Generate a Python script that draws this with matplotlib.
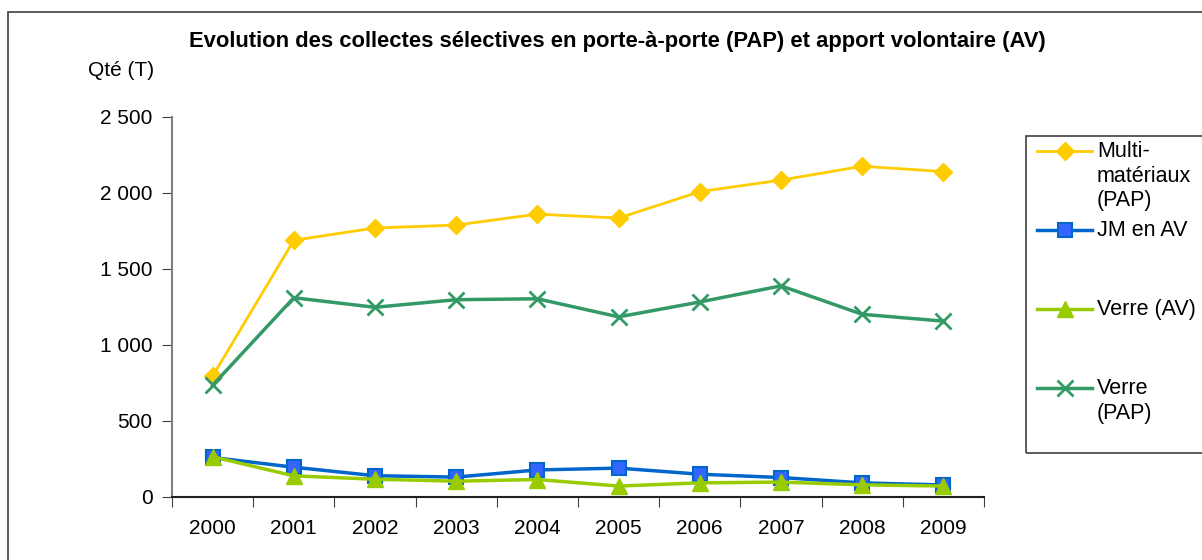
import matplotlib
matplotlib.use('Agg')
import matplotlib.pyplot as plt
from matplotlib.lines import Line2D
from matplotlib.patches import Rectangle

# ---------- data ----------
years = ['2000', '2001', '2002', '2003', '2004', '2005', '2006', '2007', '2008', '2009']
multi_pap = [795, 1689, 1770, 1789, 1861, 1835, 2009, 2085, 2176, 2141]
jm_av = [260, 196, 140, 131, 178, 190, 150, 128, 93, 79]
verre_av = [265, 139, 117, 104, 115, 72, 93, 98, 80, 72]
verre_pap = [735, 1311, 1248, 1298, 1304, 1185, 1283, 1389, 1202, 1157]

labels = ['Multi-\nmatériaux\n(PAP)', 'JM en AV', 'Verre (AV)', 'Verre\n(PAP)']
yticks = [0, 500, 1000, 1500, 2000, 2500]
ytick_labels = ['0', '500', '1 000', '1 500', '2 000', '2 500']

# ---------- style ----------
plt.rcParams.update({
    'font.family': ['Liberation Sans', 'DejaVu Sans'],
    'font.size': 15,
})

W, H = 1202, 560
fig = plt.figure(figsize=(W / 100, H / 100), dpi=100)

# outer frame of the chart area
fig.add_artist(Rectangle((8 / W, -0.5), 1.5, 1.5 - 12 / H, transform=fig.transFigure,
                         fill=False, edgecolor='#404040', linewidth=1.2))

ax = fig.add_axes([172 / W, 1 - 497 / H, (984 - 172) / W, (497 - 117) / H])
x = list(range(len(years)))

styles = [
    (multi_pap, dict(color='#FFCC00', marker='D', markersize=9, mfc='#FFCC00', mec='#FFCC00', lw=2.0)),
    (jm_av, dict(color='#0066CC', marker='s', markersize=10, mfc='#3366FF', mec='#0066CC', mew=1.5, lw=2.5)),
    (verre_av, dict(color='#99CC00', marker='^', markersize=11, mfc='#99CC00', mec='#99CC00', lw=2.5)),
    (verre_pap, dict(color='#339966', marker='x', markersize=11, mew=2, lw=2.5)),
]
handles = []
for vals, st in styles:
    ln, = ax.plot(x, vals, **st)
    handles.append(ln)

ax.set_xlim(-0.5, len(years) - 0.5)
ax.set_ylim(0, 2500)
ax.set_yticks(yticks)
ax.set_yticklabels(ytick_labels)
ax.set_xticks([i - 0.5 for i in range(len(years) + 1)])
ax.set_xticklabels([])
ax.set_xticks(x, minor=True)
ax.set_xticklabels(years, minor=True)
ax.tick_params(axis='x', which='minor', length=0, pad=16, labelsize=15)
ax.tick_params(axis='x', which='major', length=7, direction='out', color='#404040')
ax.tick_params(axis='y', length=7, direction='out', pad=7, labelsize=15, color='#404040')
for s in ['top', 'right']:
    ax.spines[s].set_visible(False)
ax.spines['left'].set_color('#808080')
ax.spines['left'].set_linewidth(1.5)
ax.spines['bottom'].set_color('#202020')
ax.spines['bottom'].set_linewidth(1.5)

fig.text(617 / W, 1 - 42 / H, 'Evolution des collectes sélectives en porte-à-porte (PAP) et apport volontaire (AV)',
         ha='center', va='center', fontsize=15.8, fontweight='bold')
fig.text(88 / W, 1 - 70 / H, 'Qté (T)', ha='left', va='center', fontsize=15)

# ---------- legend ----------
fig.add_artist(Rectangle((1026 / W, 1 - 453 / H), 0.5, (453 - 136) / H, transform=fig.transFigure,
                         fill=False, edgecolor='#404040', linewidth=1.2))
entry_y = [151, 230, 309, 388]
for h, lab, ey in zip(handles, labels, entry_y):
    yf = 1 - ey / H
    lg = Line2D([1037 / W, 1092 / W], [yf, yf], transform=fig.transFigure,
                color=h.get_color(), lw=h.get_linewidth())
    fig.add_artist(lg)
    mk = Line2D([1064.5 / W], [yf], transform=fig.transFigure, marker=h.get_marker(),
                markersize=h.get_markersize(), mfc=h.get_markerfacecolor(),
                mec=h.get_markeredgecolor(), mew=h.get_markeredgewidth(), lw=0)
    fig.add_artist(mk)
    fig.text(1097 / W, yf + 10 / H, lab, ha='left', va='top', fontsize=15.5, linespacing=1.22)

fig.savefig('out.png', dpi=100, facecolor='white')
